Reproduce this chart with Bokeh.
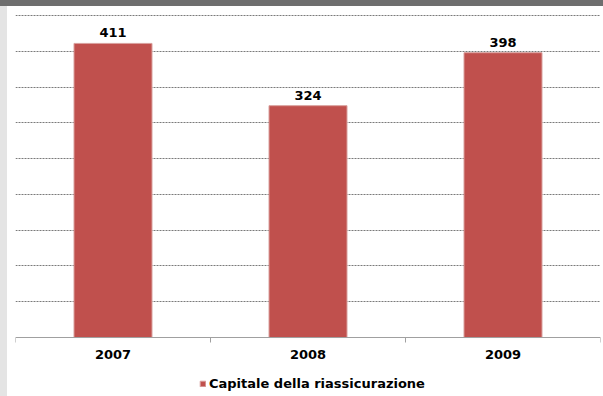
from bokeh.plotting import figure
from bokeh.models import (ColumnDataSource, FixedTicker, Legend, LegendItem,
                          Range1d, InlineStyleSheet, LabelSet)
from bokeh.core.properties import value
from bokeh.embed import file_html
from bokeh.resources import INLINE

years = ["2007", "2008", "2009"]
values = [411, 324, 398]
series_name = "Capitale della riassicurazione"
y_ticks = [0, 50, 100, 150, 200, 250, 300, 350, 400, 450]

FONT = "DejaVu Sans"
BAR = "#c0504d"

xs = [i + 0.5 for i in range(len(years))]
src = ColumnDataSource(dict(x=xs, top=values, label=[str(v) for v in values]))

p = figure(width=603, height=396, output_backend="svg", toolbar_location=None,
           x_range=Range1d(0, len(years)), y_range=Range1d(-82.4, 452.8),
           min_border_left=15, min_border_right=3, min_border_top=13,
           min_border_bottom=0)
p.border_fill_color = None
p.background_fill_color = None
p.outline_line_color = None
p.stylesheets = [InlineStyleSheet(css=":host { background: "
    "linear-gradient(#6e6e6e,#6e6e6e) top left / 100% 6px no-repeat, "
    "linear-gradient(#e4e4e4,#e4e4e4) top left / 7px 100% no-repeat, white; }")]

r = p.vbar(x="x", top="top", bottom=0, width=0.4, source=src, fill_color=BAR,
           line_color="#d9a09e", line_width=1)

labels = LabelSet(x="x", y="top", text="label", source=src, text_align="center",
                  text_baseline="bottom", y_offset=6, text_font=value(FONT),
                  text_font_style="bold", text_font_size="13px", text_color="black")
p.add_layout(labels)

p.yaxis.visible = False
p.ygrid.ticker = FixedTicker(ticks=y_ticks[1:])
p.ygrid.grid_line_color = "#7a7a7a"
p.ygrid.grid_line_dash = "2 1"
p.ygrid.grid_line_width = 1
p.xgrid.visible = False

ax = p.xaxis[0]
ax.fixed_location = 0
ax.ticker = FixedTicker(ticks=xs, minor_ticks=list(range(len(years) + 1)))
ax.major_label_overrides = {x: y for x, y in zip(xs, years)}
ax.major_tick_line_color = None
ax.minor_tick_line_color = "#a0a0a0"
ax.minor_tick_out = 5
ax.minor_tick_in = 0
ax.axis_line_color = "#a0a0a0"
ax.major_label_text_font = FONT
ax.major_label_text_font_style = "bold"
ax.major_label_text_font_size = "13px"
ax.major_label_text_color = "black"
ax.major_label_standoff = 6

legend = Legend(items=[LegendItem(label=series_name, renderers=[r])],
                orientation="horizontal", location=(184, 5),
                label_text_font=FONT, label_text_font_style="bold",
                label_text_font_size="13px", label_text_color="black",
                glyph_width=7, glyph_height=7,
                label_standoff=3, border_line_color=None, padding=0, margin=0,
                background_fill_alpha=0)
p.add_layout(legend)

open("out.html", "w").write(file_html(p, INLINE))
